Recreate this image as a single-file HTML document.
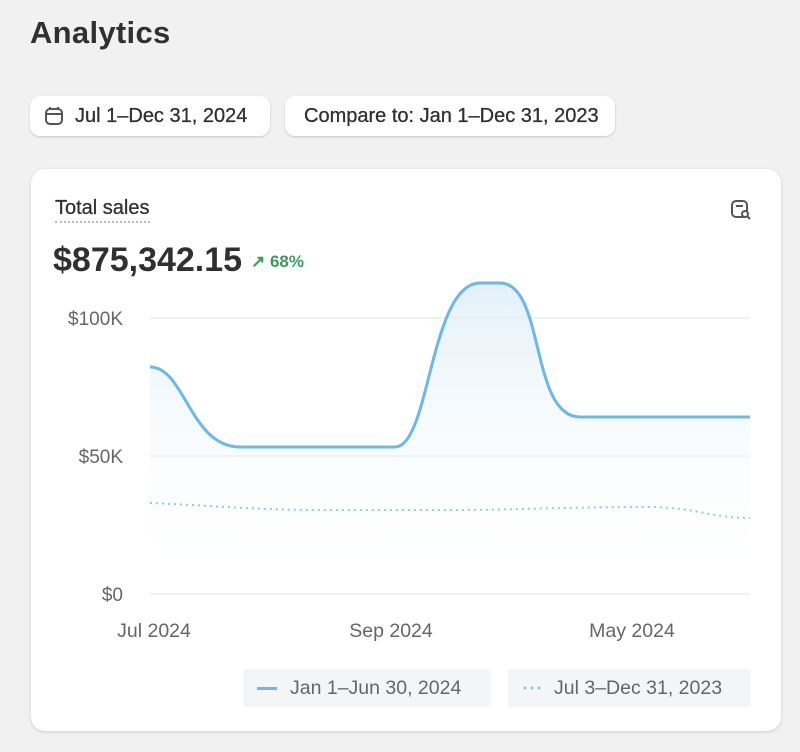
<!DOCTYPE html>
<html><head><style>
body{margin:0;width:800px;height:752px;background:#f1f1f1;font-family:"Liberation Sans",sans-serif;position:relative;overflow:hidden}
.abs{position:absolute}
.btn{position:absolute;top:96px;height:40px;background:#fff;border-radius:10px;box-shadow:0 1px 2px rgba(0,0,0,.18);font-size:20px;color:#303030;line-height:40px;box-sizing:border-box;-webkit-text-stroke:.3px #303030}
.card{position:absolute;left:31px;top:169px;width:750px;height:562px;background:#fff;border-radius:14px;box-shadow:0 1px 3px rgba(0,0,0,.15)}
.leg{position:absolute;top:669px;height:38px;background:#f4f5f7;border-radius:3px;font-size:19.5px;color:#666;line-height:38px}
</style></head><body>
<div class="abs" style="left:30px;top:15px;font-size:31px;font-weight:bold;color:#303030;letter-spacing:.3px">Analytics</div>
<div class="btn" style="left:30px;width:240px;padding-left:45px">Jul 1–Dec 31, 2024
<svg class="abs" style="left:14px;top:10px" width="20" height="20" viewBox="0 0 20 20"><rect x="2" y="3" width="16" height="15" rx="4" fill="none" stroke="#555" stroke-width="2"/><line x1="2" y1="8" x2="18" y2="8" stroke="#555" stroke-width="2"/><line x1="6" y1="1" x2="6" y2="4" stroke="#555" stroke-width="2"/><line x1="14" y1="1" x2="14" y2="4" stroke="#555" stroke-width="2"/></svg></div>
<div class="btn" style="left:285px;width:330px;padding-left:19px">Compare to: Jan 1–Dec 31, 2023</div>
<div class="card"></div>
<div class="abs" style="left:55px;top:197px;font-size:20px;color:#303030;border-bottom:2px dotted #bbb;padding-bottom:1px;-webkit-text-stroke:.3px #303030">Total sales</div>
<svg class="abs" style="left:730px;top:199px" width="22" height="22" viewBox="0 0 22 22"><rect x="2" y="2" width="15" height="16" rx="4" fill="none" stroke="#555" stroke-width="2"/><line x1="6" y1="7" x2="13" y2="7" stroke="#555" stroke-width="2"/><circle cx="15" cy="15" r="3" fill="#fff" stroke="#555" stroke-width="2"/><line x1="17" y1="17" x2="20" y2="20" stroke="#555" stroke-width="2"/></svg>
<div class="abs" style="left:53px;top:241px;font-size:34px;font-weight:bold;color:#303030">$875,342.15</div>
<div class="abs" style="left:251px;top:252px;font-size:17px;font-weight:bold;color:#3a9a5b">↗ 68%</div>
<svg class="abs" style="left:0;top:0" width="800" height="752">
<defs><linearGradient id="g" x1="0" y1="0" x2="0" y2="1"><stop offset="0" stop-color="#dcedf8" stop-opacity=".8"/><stop offset="1" stop-color="#fff" stop-opacity="0"/></linearGradient></defs>
<g stroke="#e3e3e3" stroke-width="1"><line x1="150" y1="318" x2="750" y2="318"/><line x1="150" y1="456" x2="750" y2="456"/><line x1="150" y1="594" x2="750" y2="594"/></g>
<g font-size="19" fill="#666" text-anchor="end"><text x="123" y="325">$100K</text><text x="123" y="463">$50K</text><text x="123" y="601">$0</text></g>
<g font-size="19.5" fill="#666" text-anchor="middle"><text x="154" y="637">Jul 2024</text><text x="391" y="637">Sep 2024</text><text x="632" y="637">May 2024</text></g>
<path d="M150 367 C185 367 190 447 240 447 L395 447 C430 447 430 283 480 283 L500 283 C545 283 530 417 580 417 L750 417 L750 594 L150 594Z" fill="url(#g)"/>
<path d="M150 367 C185 367 190 447 240 447 L395 447 C430 447 430 283 480 283 L500 283 C545 283 530 417 580 417 L750 417" fill="none" stroke="#6cb8e6" stroke-width="3"/>
<path d="M150 503 C220 506 260 510 320 510 L450 510 C520 510 560 507 650 507 C700 508 710 518 750 518" fill="none" stroke="#8ccbec" stroke-width="2" stroke-dasharray="2 4"/>
</svg>
<div class="leg" style="left:243px;width:248px"><span class="abs" style="left:14px;top:18px;width:20px;height:3px;background:#6cb8e6"></span><span style="margin-left:47px">Jan 1–Jun 30, 2024</span></div>
<div class="leg" style="left:508px;width:243px"><svg class="abs" style="left:14px;top:16px" width="24" height="6"><circle cx="3" cy="3" r="1.4" fill="#7cc2ea"/><circle cx="10" cy="3" r="1.4" fill="#7cc2ea"/><circle cx="17" cy="3" r="1.4" fill="#7cc2ea"/></svg><span style="margin-left:46px">Jul 3–Dec 31, 2023</span></div>
</body></html>
